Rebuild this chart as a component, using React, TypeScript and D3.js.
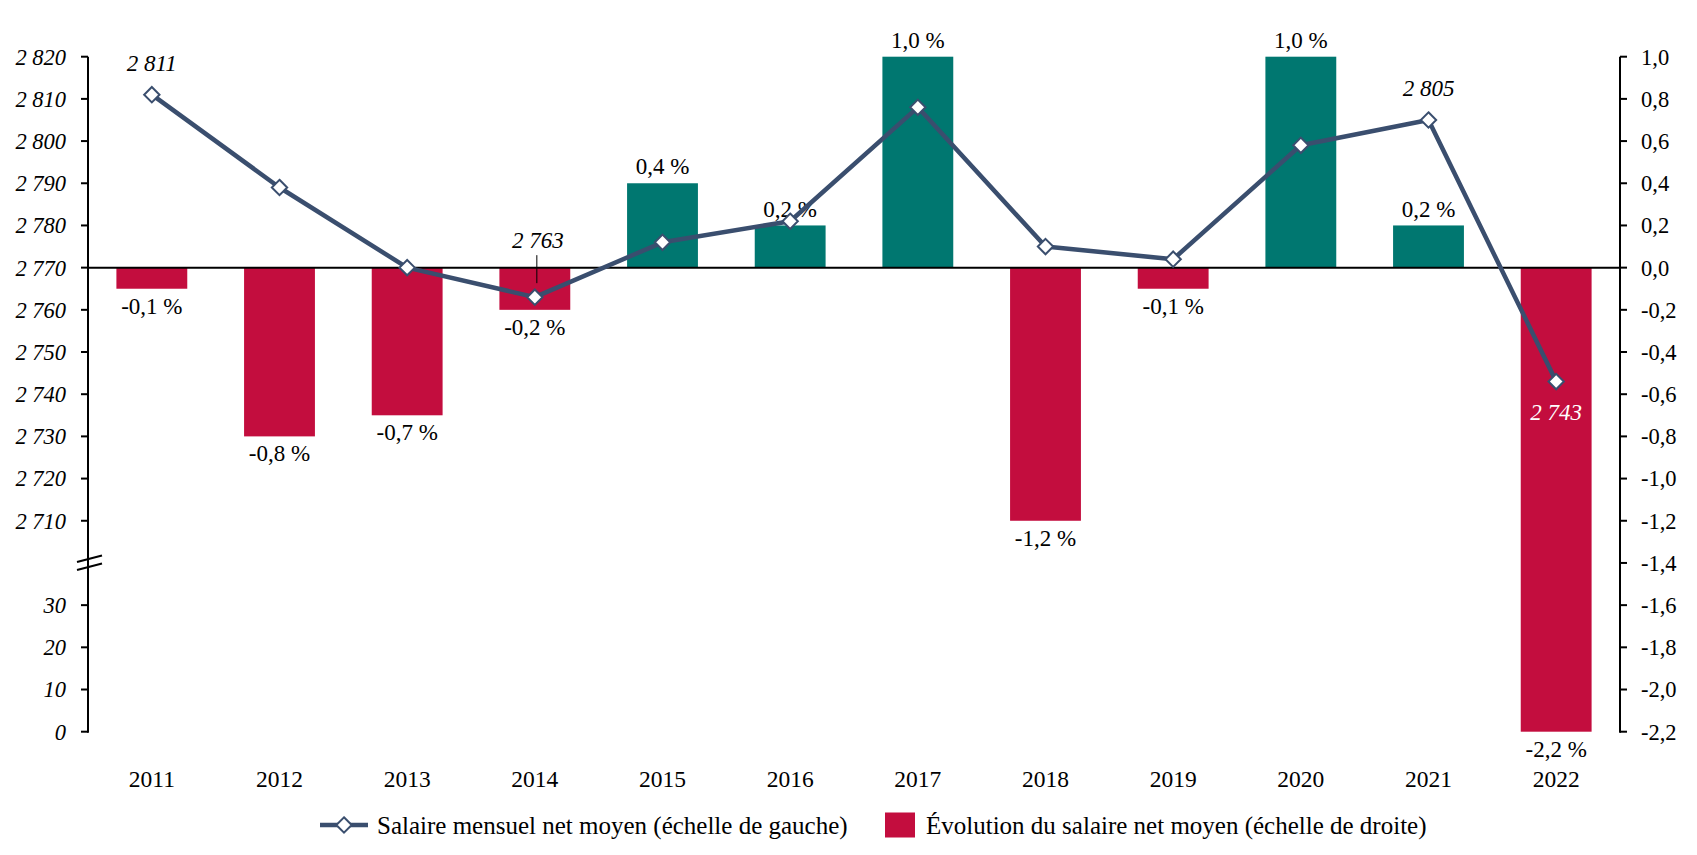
import React, { useEffect, useRef } from 'react';
import * as d3 from 'd3';

const years = ['2011', '2012', '2013', '2014', '2015', '2016', '2017', '2018', '2019', '2020', '2021', '2022'];
const salaire = [2811, 2789, 2770, 2763, 2776, 2781, 2808, 2775, 2772, 2799, 2805, 2743];
const evolution = [-0.1, -0.8, -0.7, -0.2, 0.4, 0.2, 1.0, -1.2, -0.1, 1.0, 0.2, -2.2];
const leftTicksTop = [2710, 2720, 2730, 2740, 2750, 2760, 2770, 2780, 2790, 2800, 2810, 2820];
const leftTicksBottom = [0, 10, 20, 30];
const rightTicks = [1.0, 0.8, 0.6, 0.4, 0.2, 0.0, -0.2, -0.4, -0.6, -0.8, -1.0, -1.2, -1.4, -1.6, -1.8, -2.0, -2.2];
const salaireLabels: Record<string, string> = { '2011': 'above', '2014': 'leader', '2021': 'above', '2022': 'below' };

const W = 1697;
const H = 855;
const FONT = '"Liberation Serif", "DejaVu Serif", serif';
const TEAL = '#007770';
const RED = '#C30D3E';
const LINE = '#3A4E6E';

const fmtNum = (v: number) => d3.format(',')(v).replace(/,/g, ' ');
const fmtDec = (v: number) => d3.format('.1f')(v).replace('.', ',').replace('−', '-');

const App: React.FC = () => {
  const svgRef = useRef<SVGSVGElement>(null);

  useEffect(() => {
    if (!svgRef.current) return;
    const svg = d3.select(svgRef.current);
    svg.selectAll('*').remove();

    const left = 88;
    const right = 1620;
    const top = 56.7;
    const bottom = 731.7;

    const x = d3.scaleBand<string>().domain(years).range([left, right]).paddingInner(0.445).paddingOuter(0.2225);
    const yR = d3.scaleLinear().domain([-2.2, 1.0]).range([bottom, top]);
    // left axis, broken: upper part 2710-2820, lower part 0-30
    const yTop = d3.scaleLinear().domain([2770, 2820]).range([yR(0), yR(1.0)]);
    const yLow = d3.scaleLinear().domain([0, 30]).range([yR(-2.2), yR(-1.6)]);

    const g = svg.append('g');

    // bars
    g.selectAll('rect.bar')
      .data(evolution)
      .enter()
      .append('rect')
      .attr('class', 'bar')
      .attr('x', (_, i) => x(years[i])!)
      .attr('width', x.bandwidth())
      .attr('y', d => yR(Math.max(0, d)))
      .attr('height', d => Math.abs(yR(d) - yR(0)))
      .attr('fill', d => (d >= 0 ? TEAL : RED));

    // bar labels
    g.selectAll('text.barlab')
      .data(evolution)
      .enter()
      .append('text')
      .attr('x', (_, i) => x(years[i])! + x.bandwidth() / 2)
      .attr('y', d => (d >= 0 ? yR(d) - 17 : yR(d) + 17))
      .attr('dy', '0.35em')
      .attr('text-anchor', 'middle')
      .style('font-family', FONT)
      .style('font-size', '23px')
      .attr('fill', '#000')
      .text(d => `${fmtDec(d)} %`);

    // zero line
    g.append('line')
      .attr('x1', left).attr('x2', right)
      .attr('y1', yR(0)).attr('y2', yR(0))
      .attr('stroke', '#000').attr('stroke-width', 2);

    // left axis
    g.append('line')
      .attr('x1', left).attr('x2', left)
      .attr('y1', top).attr('y2', bottom + 1)
      .attr('stroke', '#000').attr('stroke-width', 2);
    const leftTicks = [
      ...leftTicksTop.map(v => ({ v, y: yTop(v) })),
      ...leftTicksBottom.map(v => ({ v, y: yLow(v) })),
    ];
    const lt = g.selectAll('g.lt').data(leftTicks).enter().append('g');
    lt.append('line')
      .attr('x1', left - 7).attr('x2', left)
      .attr('y1', d => d.y).attr('y2', d => d.y)
      .attr('stroke', '#000').attr('stroke-width', 2);
    lt.append('text')
      .attr('x', 66)
      .attr('y', d => d.y)
      .attr('dy', '0.35em')
      .attr('text-anchor', 'end')
      .style('font-family', FONT)
      .style('font-size', '22.5px')
      .style('font-style', 'italic')
      .text(d => fmtNum(d.v));

    // axis break mark
    const yb = (yTop(2710) + yLow(30)) / 2;
    [-4, 4].forEach(o => {
      g.append('line')
        .attr('x1', left - 11).attr('x2', left + 14)
        .attr('y1', yb + o + 3).attr('y2', yb + o - 3.5)
        .attr('stroke', '#000').attr('stroke-width', 2);
    });

    // right axis
    g.append('line')
      .attr('x1', right).attr('x2', right)
      .attr('y1', top).attr('y2', bottom + 1)
      .attr('stroke', '#000').attr('stroke-width', 2);
    const rt = g.selectAll('g.rt').data(rightTicks).enter().append('g');
    rt.append('line')
      .attr('x1', right).attr('x2', right + 7)
      .attr('y1', d => yR(d)).attr('y2', d => yR(d))
      .attr('stroke', '#000').attr('stroke-width', 2);
    rt.append('text')
      .attr('x', 1641)
      .attr('y', d => yR(d))
      .attr('dy', '0.35em')
      .attr('text-anchor', 'start')
      .style('font-family', FONT)
      .style('font-size', '22.5px')
      .text(d => fmtDec(d));

    // year labels
    g.selectAll('text.year')
      .data(years)
      .enter()
      .append('text')
      .attr('x', d => x(d)! + x.bandwidth() / 2)
      .attr('y', 779)
      .attr('dy', '0.35em')
      .attr('text-anchor', 'middle')
      .style('font-family', FONT)
      .style('font-size', '23.5px')
      .text(d => d);

    // salary line
    const pts = salaire.map((v, i) => ({ x: x(years[i])! + x.bandwidth() / 2, y: yTop(v), v, year: years[i] }));
    const line = d3.line<{ x: number; y: number }>().x(d => d.x).y(d => d.y);
    g.append('path')
      .attr('d', line(pts)!)
      .attr('fill', 'none')
      .attr('stroke', LINE)
      .attr('stroke-width', 4.5)
      .attr('stroke-linejoin', 'round');

    const diamond = d3.symbol().type(d3.symbolDiamond2).size(150);
    g.selectAll('path.mk')
      .data(pts)
      .enter()
      .append('path')
      .attr('transform', d => `translate(${d.x},${d.y})`)
      .attr('d', diamond()!)
      .attr('fill', '#fff')
      .attr('stroke', LINE)
      .attr('stroke-width', 2);

    // salary labels
    pts.forEach(p => {
      const mode = salaireLabels[p.year];
      if (!mode) return;
      let ly = p.y - 32;
      if (mode === 'leader') {
        ly = p.y - 57;
        g.append('line')
          .attr('x1', p.x + 2).attr('x2', p.x + 2)
          .attr('y1', p.y - 42).attr('y2', p.y - 14)
          .attr('stroke', '#000').attr('stroke-width', 1);
      }
      if (mode === 'below') ly = p.y + 30;
      g.append('text')
        .attr('x', mode === 'leader' ? p.x + 3 : p.x)
        .attr('y', ly)
        .attr('dy', '0.35em')
        .attr('text-anchor', 'middle')
        .style('font-family', FONT)
        .style('font-size', '23px')
        .style('font-style', 'italic')
        .attr('fill', mode === 'below' ? '#fff' : '#000')
        .text(fmtNum(p.v));
    });

    // legend
    const ly = 825;
    const lg = g.append('g');
    lg.append('line')
      .attr('x1', 320).attr('x2', 368)
      .attr('y1', ly).attr('y2', ly)
      .attr('stroke', LINE).attr('stroke-width', 4.5);
    lg.append('path')
      .attr('transform', `translate(344,${ly})`)
      .attr('d', diamond()!)
      .attr('fill', '#fff')
      .attr('stroke', LINE)
      .attr('stroke-width', 2);
    lg.append('text')
      .attr('x', 377).attr('y', ly)
      .attr('dy', '0.35em')
      .style('font-family', FONT)
      .style('font-size', '25px')
      .text('Salaire mensuel net moyen (échelle de gauche)');
    lg.append('rect')
      .attr('x', 885).attr('y', ly - 12.5)
      .attr('width', 30).attr('height', 25)
      .attr('fill', RED);
    lg.append('text')
      .attr('x', 926).attr('y', ly)
      .attr('dy', '0.35em')
      .style('font-family', FONT)
      .style('font-size', '25px')
      .text('Évolution du salaire net moyen (échelle de droite)');
  }, []);

  return (
    <svg
      ref={svgRef}
      width={W}
      height={H}
      style={{ position: 'absolute', left: 0, top: 0, background: '#fff' }}
    />
  );
};

export default App;
